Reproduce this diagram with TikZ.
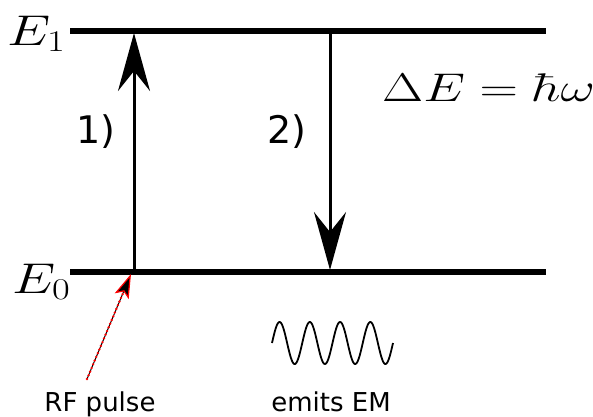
\RequirePackage{fix-cm}
\documentclass[tikz,border=0pt]{standalone}
\usepackage{fontspec}
\newfontfamily\dejavu{DejaVu Sans}
\usetikzlibrary{arrows.meta}
\begin{document}
\begin{tikzpicture}[x=1pt,y=-1pt,
  level/.style={line width=5.5pt},
  trans/.style={line width=3pt,-{Stealth[length=58pt,width=32pt,inset=20pt]}},
  mathlbl/.style={inner sep=0pt,anchor=base west,font=\fontsize{43}{50}\selectfont},
  numlbl/.style={inner sep=0pt,anchor=base west,font=\dejavu\fontsize{38}{44}\selectfont},
  caplbl/.style={inner sep=0pt,anchor=base,font=\dejavu\fontsize{26}{30}\selectfont}]
\useasboundingbox (0,0) rectangle (593,416);
% levels
\coordinate (e1a) at (70,31);
\coordinate (e1b) at (546,31);
\coordinate (e0a) at (70,272);
\coordinate (e0b) at (546,272);
\draw[level] (e1a) -- (e1b);
\draw[level] (e0a) -- (e0b);
% labels
\node[mathlbl] (lE1) at (7,45) {\scalebox{1.28}[1]{$E_1$}};
\node[mathlbl] (lE0) at (12,293) {\scalebox{1.28}[1]{$E_0$}};
\node[mathlbl,font=\fontsize{40}{46}\selectfont] (dE) at (382,101) {\scalebox{1.33}[1]{$\Delta E = \hbar\omega$}};
\node[numlbl] (n1) at (76,143) {1)};
\node[numlbl] (n2) at (267,143) {2)};
% transitions
\coordinate (a1s) at (134,272);
\coordinate (a1e) at (134,33);
\coordinate (a2s) at (330,31);
\coordinate (a2e) at (330,270);
\draw[trans] (a1s) -- (a1e);
\draw[trans] (a2s) -- (a2e);
% RF pulse
\node[caplbl] (rf) at (100,411) {RF pulse};
\coordinate (rfs) at (87,379);
\coordinate (rft) at (131,274);
\draw[line width=1pt,-{Stealth[length=24pt,width=15pt,inset=5pt,color=red,fill=black,line width=1.2pt]}] (rfs) -- (rft);
\draw[red,line width=2.6pt,line cap=round,dash pattern=on 0pt off 4pt,shorten >=20pt] (rfs) -- (rft);
% emitted wave
\node[caplbl] (em) at (331,411) {emits EM};
\coordinate (w0) at (272,343);
\draw[line width=1.8pt] plot[domain=0:121,samples=200,smooth] ({272+\x},{343-21*sin(\x/121*4*360)});
\end{tikzpicture}
\end{document}
